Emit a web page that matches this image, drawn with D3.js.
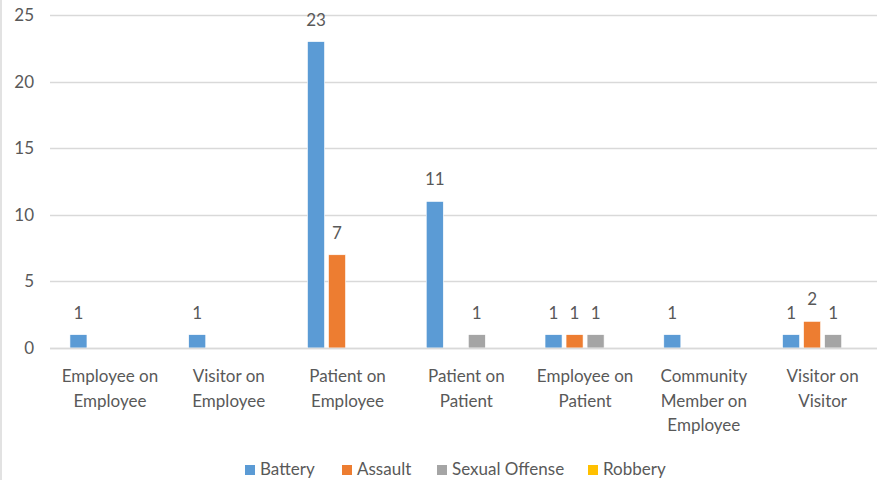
<!DOCTYPE html>
<html>
<head>
<meta charset="utf-8">
<script src="https://cdn.jsdelivr.net/npm/d3@7"></script>
<style>
  html, body { margin: 0; padding: 0; background: #fff; }
  svg { display: block; font-family: Lato, "Open Sans", sans-serif; }
</style>
</head>
<body>
<div id="chart"></div>
<script>
// Categories (two-line labels) and series values
const categories = [
  ['Employee on', 'Employee'],
  ['Visitor on', 'Employee'],
  ['Patient on', 'Employee'],
  ['Patient on', 'Patient'],
  ['Employee on', 'Patient'],
  ['Community', 'Member on', 'Employee'],
  ['Visitor on', 'Visitor']
];
const seriesNames = ['Battery', 'Assault', 'Sexual Offense', 'Robbery'];
const battery = [1, 1, 23, 11, 1, 1, 1];
const assault = [0, 0, 7, 0, 1, 0, 2];
const sexualOffense = [0, 0, 0, 1, 1, 0, 1];
const robbery = [0, 0, 0, 0, 0, 0, 0];
const yTicks = [0, 5, 10, 15, 20, 25];

const colors = ['#5B9BD5', '#ED7D31', '#A5A5A5', '#FFC000'];
const seriesValues = [battery, assault, sexualOffense, robbery];

const width = 877, height = 480;
const textColor = '#595959';
const gridColor = '#d9d9d9';

const svg = d3.select('#chart').append('svg')
  .attr('width', width)
  .attr('height', height);

// left border of the chart frame
svg.append('line')
  .attr('x1', 1).attr('x2', 1)
  .attr('y1', 0).attr('y2', height)
  .attr('stroke', gridColor).attr('stroke-width', 1.5);

const x0 = d3.scaleBand()
  .domain(d3.range(categories.length))
  .range([50.6, 882]);

const x1 = d3.scaleBand()
  .domain(seriesNames)
  .range([0, x0.bandwidth()])
  .paddingInner(0.19)
  .paddingOuter(0.92);

const y = d3.scaleLinear()
  .domain([0, 25])
  .range([348, 15]);

// gridlines
svg.append('g')
  .selectAll('line')
  .data(yTicks)
  .enter()
  .append('line')
  .attr('x1', 50).attr('x2', width)
  .attr('y1', d => Math.round(y(d)) + 0.5)
  .attr('y2', d => Math.round(y(d)) + 0.5)
  .attr('stroke', gridColor)
  .attr('stroke-width', 1.5);

// y tick labels
svg.append('g')
  .selectAll('text')
  .data(yTicks)
  .enter()
  .append('text')
  .attr('x', 34)
  .attr('y', d => y(d) + 6)
  .attr('text-anchor', 'end')
  .attr('fill', textColor)
  .style('font-size', '17px')
  .text(d => d);

// bars
const groups = svg.append('g')
  .selectAll('g')
  .data(categories)
  .enter()
  .append('g')
  .attr('transform', (d, i) => `translate(${x0(i)},0)`);

groups.each(function(cat, i) {
  const g = d3.select(this);
  const vals = seriesNames
    .map((name, s) => ({ name: name, s: s, value: seriesValues[s][i] }))
    .filter(d => d.value > 0);

  g.selectAll('rect')
    .data(vals)
    .enter()
    .append('rect')
    .attr('x', d => x1(d.name))
    .attr('y', d => y(d.value))
    .attr('width', x1.bandwidth())
    .attr('height', d => y(0) - y(d.value))
    .attr('fill', d => colors[d.s])
    .attr('stroke', '#fff')
    .attr('stroke-width', 0.6);

  g.selectAll('text.val')
    .data(vals)
    .enter()
    .append('text')
    .attr('class', 'val')
    .attr('x', d => x1(d.name) + x1.bandwidth() / 2)
    .attr('y', d => y(d.value) - 16)
    .attr('text-anchor', 'middle')
    .attr('fill', textColor)
    .style('font-size', '17px')
    .text(d => d.value);

  // category label
  const label = g.append('text')
    .attr('text-anchor', 'middle')
    .attr('fill', textColor)
    .style('font-size', '17px');
  label.selectAll('tspan')
    .data(cat)
    .enter()
    .append('tspan')
    .attr('x', x0.bandwidth() / 2)
    .attr('y', (d, k) => 382 + k * 24.5)
    .text(d => d);
});

// axis line
svg.append('line')
  .attr('x1', 50).attr('x2', width)
  .attr('y1', Math.round(y(0)) + 0.5).attr('y2', Math.round(y(0)) + 0.5)
  .attr('stroke', gridColor)
  .attr('stroke-width', 1.5);

// legend
const legendX = [245, 342, 437, 588];
const legend = svg.append('g')
  .selectAll('g')
  .data(seriesNames)
  .enter()
  .append('g')
  .attr('transform', (d, i) => `translate(${legendX[i]},465)`);
legend.append('rect')
  .attr('width', 10).attr('height', 10)
  .attr('fill', (d, i) => colors[i]);
legend.append('text')
  .attr('x', 15)
  .attr('y', 10)
  .attr('fill', textColor)
  .style('font-size', '17px')
  .text(d => d);
</script>
</body>
</html>
